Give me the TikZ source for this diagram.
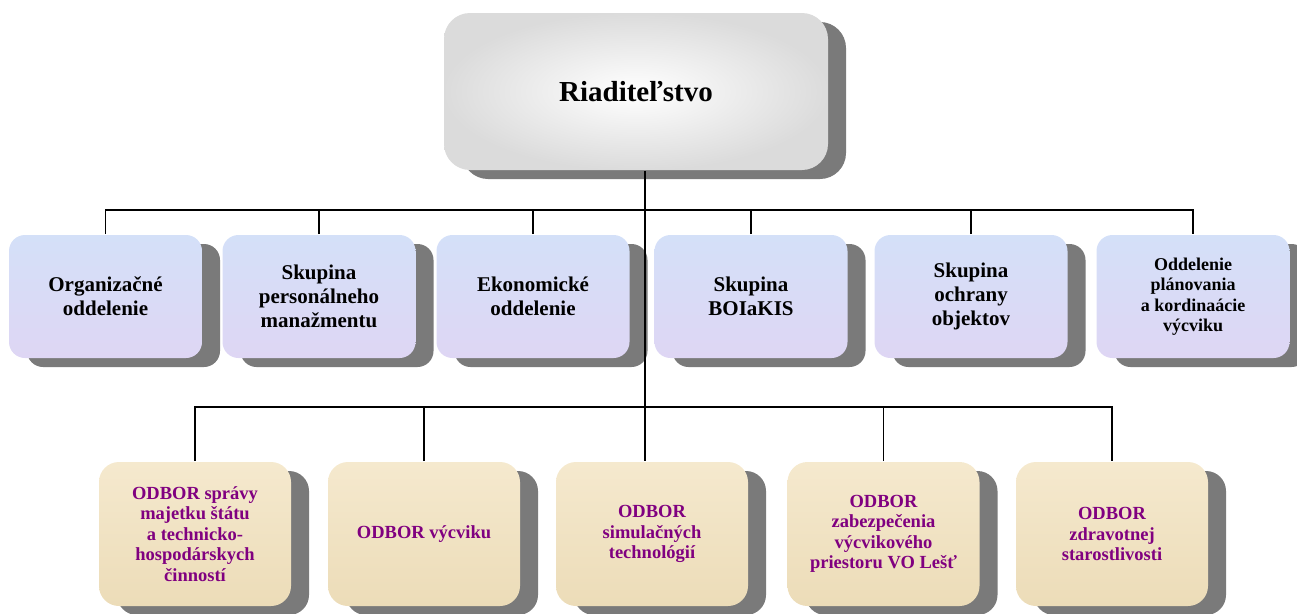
\documentclass[tikz,border=0pt]{standalone}
\usepackage{fontspec}
\setmainfont{Liberation Serif}
\usepackage{tikz}
\usetikzlibrary{positioning, shadows}
\definecolor{odborpurple}{RGB}{128,0,128}
\definecolor{shadowgray}{RGB}{122,122,122}
\definecolor{skyfill}{RGB}{212,224,248}
\definecolor{lilacfill}{RGB}{222,214,244}
\definecolor{sandfill}{RGB}{245,233,206}
\definecolor{tanfill}{RGB}{236,220,184}

\begin{document}
\begin{tikzpicture}[x=1pt, y=1pt, on grid, line width=1.6pt,
			box/.style={align=center, inner sep=0pt,
				drop shadow={shadow xshift=18pt, shadow yshift=-9pt, fill=shadowgray, opacity=1}},
			head/.style={box, minimum width=384pt, minimum height=157pt, rounded corners=26pt,
				inner color=white, outer color=gray!28, font=\bfseries\fontsize{29}{34}\selectfont},
			dept/.style={box, minimum width=193pt, minimum height=123pt, rounded corners=16pt,
				top color=skyfill, bottom color=lilacfill, font=\bfseries\fontsize{21}{24}\selectfont},
			odbor/.style={box, minimum width=192pt, minimum height=144pt, rounded corners=20pt,
				top color=sandfill, bottom color=tanfill, text=odborpurple,
				font=\bfseries\fontsize{18.5}{20.5}\selectfont}]
				\useasboundingbox (0,0) rectangle (1297,-613);
				\node[head] (r_0) at (636,-91.5) {Riaditeľstvo};
				\node[dept] (o_1) at (105.5,-296.5) {Organizačné\\oddelenie};
				\node[dept] (o_2) [right=213.5pt of o_1] {Skupina\\personálneho\\manažmentu};
				\node[dept] (o_3) [right=214pt of o_2] {Ekonomické\\oddelenie};
				\node[dept] (o_4) [right=218pt of o_3] {Skupina\\BOIaKIS};
				\node[dept] (o_5) [right=220pt of o_4] {Skupina\\ochrany\\objektov};
				\node[dept, font=\bfseries\fontsize{18}{20.5}\selectfont] (o_6) [right=222pt of o_5] {Oddelenie\\plánovania\\a kordinaácie\\výcviku};
				\node[odbor] (p_1) at (195,-534) {ODBOR správy\\majetku štátu\\a technicko-\\hospodárskych\\činností};
				\node[odbor] (p_2) [right=229pt of p_1] {ODBOR výcviku};
				\node[odbor] (p_3) [right=228pt of p_2] {ODBOR\\simulačných\\technológií};
				\node[odbor] (p_4) [right=231.5pt of p_3] {ODBOR\\zabezpečenia\\výcvikového\\priestoru VO Lešť};
				\node[odbor] (p_5) [right=228.5pt of p_4] {ODBOR\\zdravotnej\\starostlivosti};
				\coordinate (j_1) at (645,-210);
				\coordinate (j_2) at (645,-407);
				\draw (r_0.south -| j_1) -- (j_2);
				\draw (o_1.north) |- (j_1) -| (o_6.north);
				\foreach \o in {o_2,o_3,o_4,o_5}
					\draw (\o.north) -- (\o.north |- j_1);
				\draw (p_1.north) |- (j_2) -| (p_5.north);
				\foreach \p in {p_2,p_4}
					\draw (\p.north) -- (\p.north |- j_2);
				\draw (j_2) -- (j_2 |- p_3.north);
			\end{tikzpicture}
\end{document}
